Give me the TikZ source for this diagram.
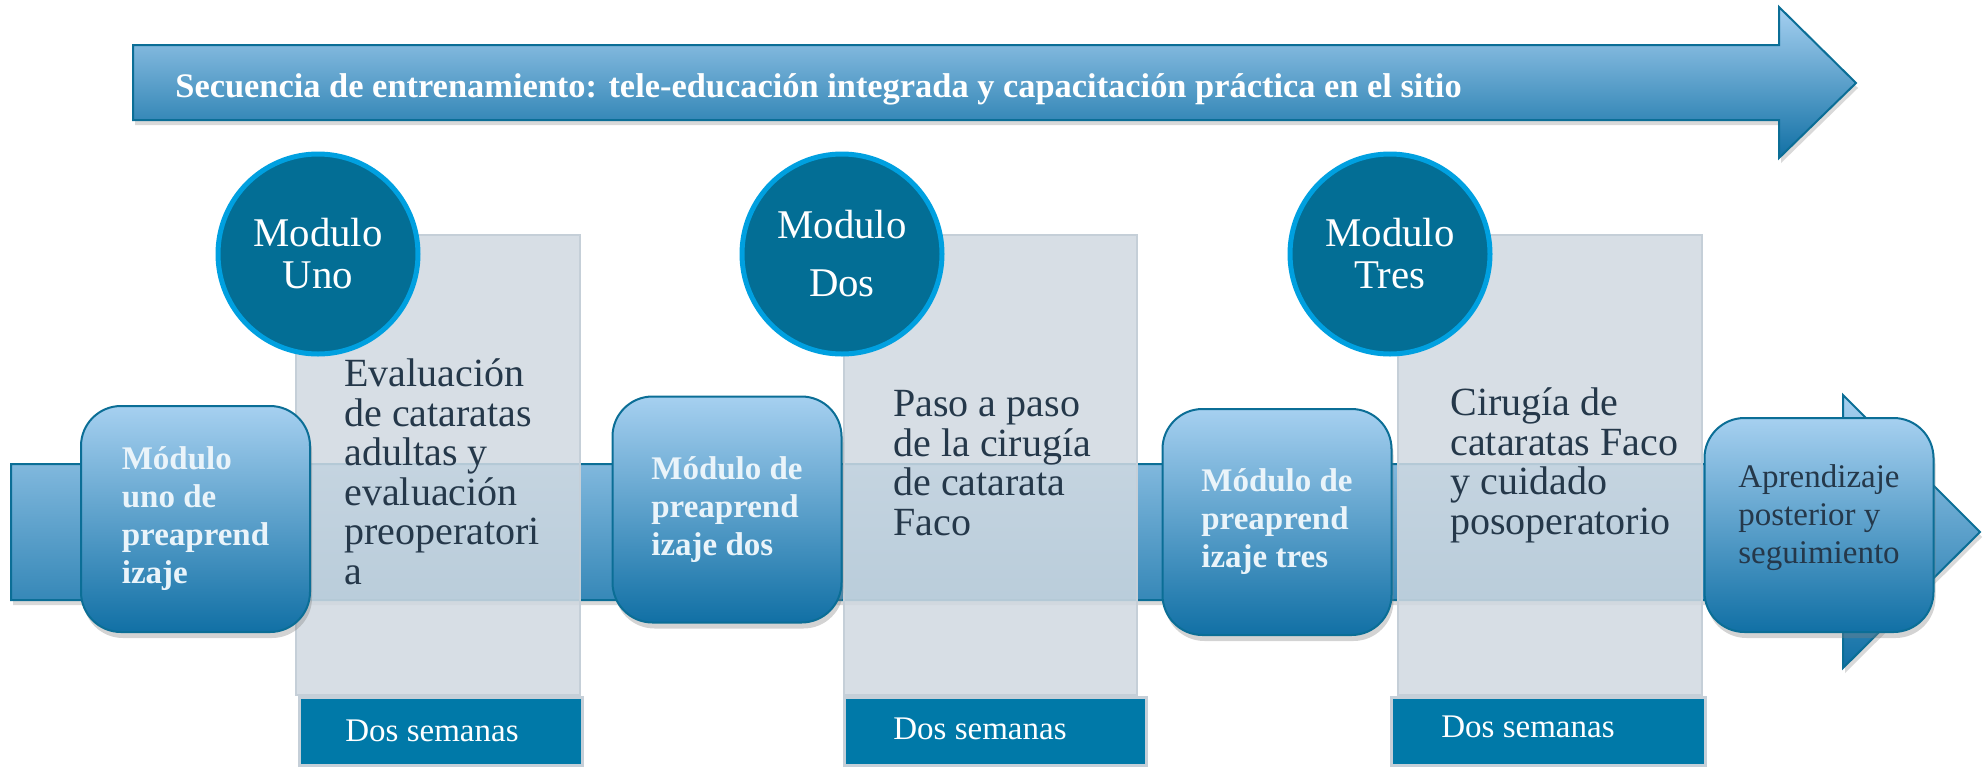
\documentclass[tikz,border=0pt]{standalone}
\usepackage{fontspec}
\setmainfont{Liberation Serif}
\usetikzlibrary{shadows,positioning}

\definecolor{azulclaro}{HTML}{A6D0F0}
\definecolor{azuloscuro}{HTML}{1170A5}
\definecolor{bordeazul}{HTML}{0B6E96}
\definecolor{circfondo}{HTML}{036E95}
\definecolor{circborde}{HTML}{00A0E0}
\definecolor{grispanel}{HTML}{D0D9E1}
\definecolor{grisborde}{HTML}{C5CFD8}
\definecolor{semfondo}{HTML}{0079A8}
\definecolor{textoscuro}{HTML}{25384A}
\definecolor{textoclaro}{HTML}{EAF4FA}

\tikzset{
  flecha/.style={draw=bordeazul, line width=1pt, top color=azulclaro, bottom color=azuloscuro,
    drop shadow={shadow xshift=1pt, shadow yshift=-2.5pt, opacity=0.3}},
  titulo/.style={inner sep=0pt, text=white, font=\fontsize{17.2pt}{20pt}\selectfont\bfseries},
  panel/.style={draw=grisborde, line width=1pt, fill=grispanel, fill opacity=0.86},
  semana/.style={draw=grisborde, line width=1.5pt, fill=semfondo},
  circulo/.style={circle, minimum size=100pt, inner sep=0pt, fill=circfondo, draw=circborde,
    line width=2.5pt, text=white, align=center, font=\fontsize{20.4pt}{21pt}\selectfont},
  caja/.style={rounded corners=20pt, minimum width=114.5pt, minimum height=113pt, inner sep=0pt,
    draw=bordeazul, line width=1pt, top color=azulclaro, bottom color=azuloscuro, align=left,
    text=textoclaro, font=\fontsize{16.5pt}{19pt}\selectfont\bfseries,
    drop shadow={shadow xshift=1pt, shadow yshift=-3pt, opacity=0.35}},
  texto/.style={anchor=base west, inner sep=0pt, align=left, text=textoscuro,
    font=\fontsize{20pt}{19.75pt}\selectfont},
  semtxt/.style={anchor=base west, inner sep=0pt, text=white, font=\fontsize{16.5pt}{19pt}\selectfont},
}

\begin{document}
\begin{tikzpicture}[x=0.5pt,y=-0.5pt]
  \useasboundingbox (0,0) rectangle (1988,767);
  \draw[flecha] (133,45) -- (1779,45) -- (1779,7) -- (1856,83) -- (1779,158) -- (1779,120) -- (133,120) -- cycle;
  \node[titulo] (tit) at (175,97) [anchor=base west] {Secuencia de entrenamiento: tele-educación integrada y capacitación práctica en el sitio};
  \draw[flecha] (11,464) -- (1843,464) -- (1843,395) -- (1980,532) -- (1843,668) -- (1843,600) -- (11,600) -- cycle;
  \foreach \xa/\xb in {296/580, 844/1137, 1398/1702}
    \draw[panel] (\xa,235) rectangle (\xb,695);
  \foreach \xa/\xb in {299/582, 844/1146, 1391/1705}
    \draw[semana] (\xa,697) rectangle (\xb,765);
  \node[circulo] (modUno) at (318,254) {Modulo\\Uno};
  \node[circulo, font=\fontsize{20.4pt}{29pt}\selectfont] (modDos) at (842,254) {Modulo\\Dos};
  \node[circulo] (modTres) at (1390,254) {Modulo\\Tres};
  \node[caja] (preUno) at (195.5,519) {Módulo\\uno de\\preaprend\\izaje};
  \node[caja] (preDos) at (727,509.5) {Módulo de\\preaprend\\izaje dos};
  \node[caja] (preTres) at (1277,522) {Módulo de\\preaprend\\izaje tres};
  \node[caja, minimum height=107pt, text=textoscuro, font=\fontsize{16.5pt}{19pt}\selectfont] (post) at (1819,525) {Aprendizaje\\posterior y\\seguimiento\\[-8pt]\mbox{}};
  \node[texto] (txtUno) at (344,584) {Evaluación\\de cataratas\\adultas y\\evaluación\\preoperatori\\a};
  \node[texto] (txtDos) at (893,535) {Paso a paso\\de la cirugía\\de catarata\\Faco};
  \node[texto] (txtTres) at (1450,534) {Cirugía de\\cataratas Faco\\y cuidado\\posoperatorio};
  \node[semtxt] (semUno) at (345,741) {Dos semanas};
  \node[semtxt] (semDos) at (893,739) {Dos semanas};
  \node[semtxt] (semTres) at (1441,737) {Dos semanas};
\end{tikzpicture}
\end{document}
